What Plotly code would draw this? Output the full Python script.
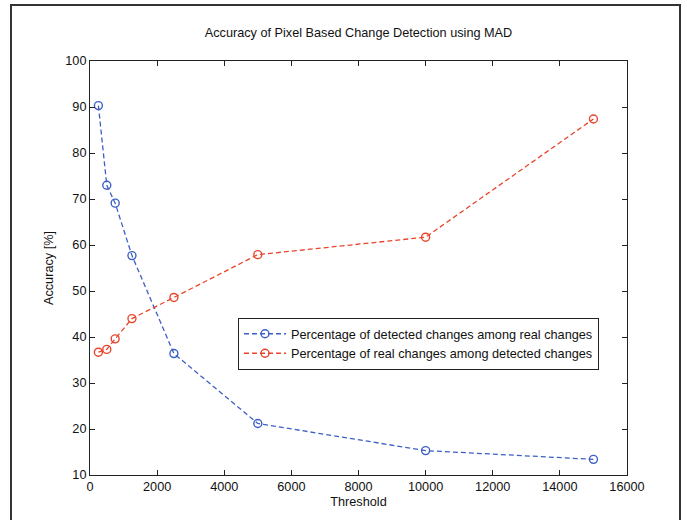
import plotly.graph_objects as go

thresholds = [250, 500, 750, 1250, 2500, 5000, 10000, 15000]
detected_among_real = [90.3, 73.0, 69.1, 57.7, 36.4, 21.2, 15.3, 13.4]
real_among_detected = [36.7, 37.3, 39.6, 44.0, 48.6, 57.9, 61.7, 87.4]

name_blue = "Percentage of detected changes among real changes"
name_red = "Percentage of real changes among detected changes"
blue = "#3d5fc6"
red = "#e8452d"
FONT = "Liberation Sans, Arial, Helvetica, sans-serif"
FS = 12.7

W, H = 687, 520
L, R, T, B = 90, 60, 61, 45

fig = go.Figure()
fig.add_trace(go.Scatter(
    x=thresholds, y=detected_among_real, name=name_blue, mode="lines+markers",
    line=dict(color=blue, width=1.3, dash="5px,3px"),
    marker=dict(symbol="circle-open", size=8, color=blue, line=dict(width=1.4, color=blue)),
))
fig.add_trace(go.Scatter(
    x=thresholds, y=real_among_detected, name=name_red, mode="lines+markers",
    line=dict(color=red, width=1.3, dash="5px,3px"),
    marker=dict(symbol="circle-open", size=8, color=red, line=dict(width=1.4, color=red)),
))

axis_common = dict(
    showline=True, linecolor="#222", linewidth=1, mirror="ticks",
    ticks="inside", ticklen=5, tickcolor="#222", tickwidth=1,
    showgrid=False, zeroline=False,
    tickfont=dict(family=FONT, size=FS, color="#111"),
)

fig.update_layout(
    width=W, height=H,
    margin=dict(l=L, r=R, t=T, b=B, autoexpand=False),
    paper_bgcolor="white", plot_bgcolor="white",
    font=dict(family=FONT, size=FS, color="#111"),
    title=dict(
        text="Accuracy of Pixel Based Change Detection using MAD",
        x=(L + (W - L - R) / 2) / W, xanchor="center",
        y=1 - 33 / H, yanchor="middle", yref="container",
        font=dict(family=FONT, size=FS, color="#111"),
    ),
    xaxis=dict(
        range=[0, 16000], tickmode="array",
        tickvals=[0, 2000, 4000, 6000, 8000, 10000, 12000, 14000, 16000],
        ticktext=["0", "2000", "4000", "6000", "8000", "10000", "12000", "14000", "16000"],
        title=dict(text="Threshold", font=dict(family=FONT, size=FS, color="#111"), standoff=3),
        **axis_common,
    ),
    yaxis=dict(
        range=[10, 100], tickmode="array",
        tickvals=[10, 20, 30, 40, 50, 60, 70, 80, 90, 100],
        ticktext=["10", "20", "30", "40", "50", "60", "70", "80", "90", "100"],
        title=dict(text="Accuracy [%]", font=dict(family=FONT, size=FS, color="#111"), standoff=8),
        **axis_common,
    ),
    legend=dict(
        x=(238 - L) / (W - L - R), y=(H - B - 318) / (H - T - B),
        xanchor="left", yanchor="top",
        bgcolor="white", bordercolor="#222", borderwidth=1,
        font=dict(family=FONT, size=FS, color="#111"),
        tracegroupgap=0, itemwidth=42,
    ),
    showlegend=True,
)

# outer figure frame (paper-level border, open at the bottom edge of the image)
pw, ph = W - L - R, H - T - B
fx0 = (11 - L) / pw
fx1 = (680 - L) / pw
fy1 = (H - B - 5) / ph
fy0 = (H - B - 530) / ph
fig.add_shape(type="rect", xref="paper", yref="paper",
              x0=fx0, x1=fx1, y0=fy0, y1=fy1,
              line=dict(color="#333", width=2), fillcolor="rgba(0,0,0,0)", layer="below")

fig.write_html("out.html")
